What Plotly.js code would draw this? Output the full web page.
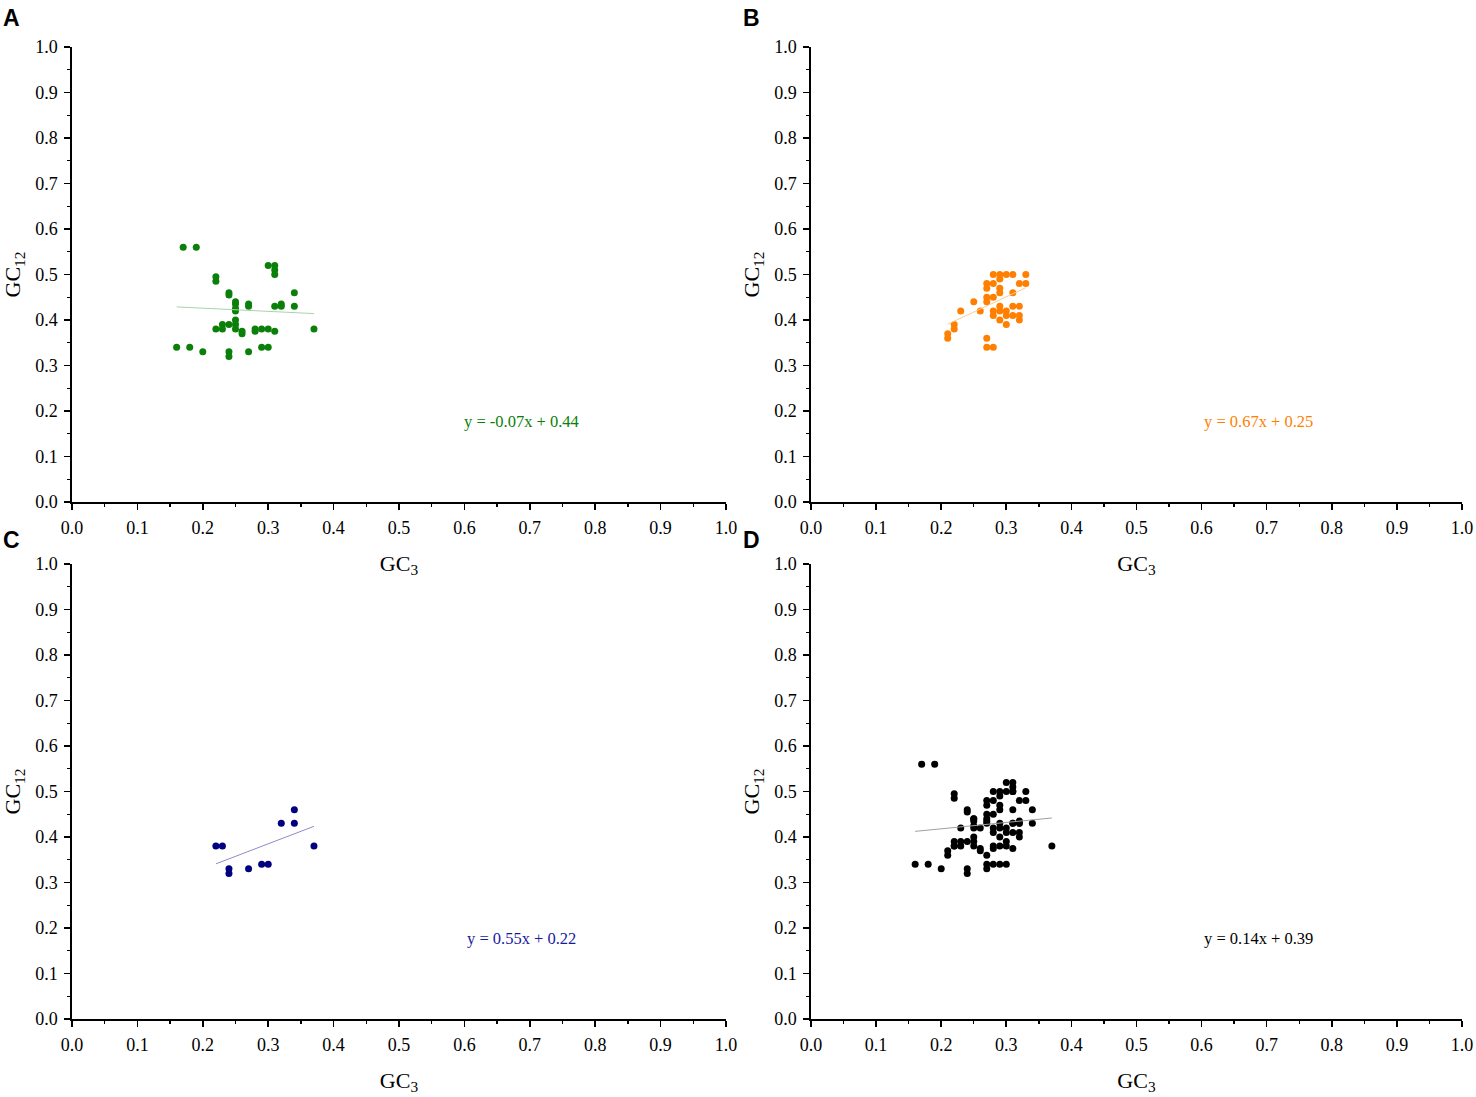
<!DOCTYPE html>
<html>
<head>
<meta charset="utf-8">
<script src="https://cdn.plot.ly/plotly-3.0.1.min.js"></script>
<style>
  html, body { margin: 0; padding: 0; background: #ffffff; }
  #chart { width: 1476px; height: 1097px; }
</style>
</head>
<body>
<div id="chart"></div>
<script>
// GC3 / GC12 values
const gcA_x = [0.17, 0.19, 0.30, 0.31, 0.31, 0.31, 0.22, 0.22, 0.24, 0.24, 0.34,
               0.25, 0.25, 0.25, 0.25, 0.27, 0.27, 0.31, 0.32, 0.32, 0.34,
               0.22, 0.23, 0.23, 0.24, 0.25, 0.25, 0.25, 0.26, 0.26,
               0.28, 0.28, 0.29, 0.30, 0.31, 0.37,
               0.16, 0.18, 0.20, 0.24, 0.24, 0.27, 0.29, 0.30];
const gcA_y = [0.56, 0.56, 0.52, 0.52, 0.51, 0.50, 0.495, 0.485, 0.46, 0.455, 0.46,
               0.44, 0.435, 0.425, 0.42, 0.435, 0.43, 0.43, 0.435, 0.43, 0.43,
               0.38, 0.39, 0.38, 0.39, 0.40, 0.39, 0.38, 0.375, 0.37,
               0.38, 0.375, 0.38, 0.38, 0.375, 0.38,
               0.34, 0.34, 0.33, 0.33, 0.32, 0.33, 0.34, 0.34];

const gcB_x = [0.28, 0.29, 0.30, 0.31, 0.33, 0.29, 0.27, 0.27, 0.28, 0.32, 0.33,
               0.29, 0.29, 0.31, 0.27, 0.27, 0.28, 0.25, 0.29, 0.29, 0.31, 0.32,
               0.23, 0.26, 0.28, 0.28, 0.30, 0.30, 0.31, 0.32, 0.32, 0.29, 0.30,
               0.22, 0.22, 0.21, 0.21, 0.27, 0.27, 0.28];
const gcB_y = [0.50, 0.50, 0.50, 0.50, 0.50, 0.49, 0.48, 0.47, 0.48, 0.48, 0.48,
               0.47, 0.46, 0.46, 0.45, 0.44, 0.45, 0.44, 0.43, 0.42, 0.43, 0.43,
               0.42, 0.42, 0.42, 0.41, 0.42, 0.41, 0.41, 0.41, 0.40, 0.40, 0.39,
               0.39, 0.38, 0.37, 0.36, 0.36, 0.34, 0.34];

const gcC_x = [0.22, 0.23, 0.24, 0.24, 0.27, 0.29, 0.30, 0.32, 0.34, 0.34, 0.37];
const gcC_y = [0.38, 0.38, 0.33, 0.32, 0.33, 0.34, 0.34, 0.43, 0.43, 0.46, 0.38];

// panel D pools A and B
const gcD_x = gcA_x.concat(gcB_x);
const gcD_y = gcA_y.concat(gcB_y);

const panelNames = ['A', 'B', 'C', 'D'];
const fitSlope = [-0.07, 0.67, 0.55, 0.14];
const fitIntercept = [0.44, 0.25, 0.22, 0.39];
const fitLabels = ['y = -0.07x + 0.44', 'y = 0.67x + 0.25', 'y = 0.55x + 0.22', 'y = 0.14x + 0.39'];

const SERIES = [[gcA_x, gcA_y], [gcB_x, gcB_y], [gcC_x, gcC_y], [gcD_x, gcD_y]];
const DOT = ['#0a800a', '#ff8000', '#000080', '#000000'];
const FIT = ['#a8d4a8', '#ffc898', '#8c8cc8', '#a0a0a0'];
const TXT = ['#0a800a', '#ff8000', '#1a1aa0', '#000000'];

const W = 1476, H = 1097;
const XDOM = [[72 / W, 726 / W], [811 / W, 1462 / W]];
const YDOM = [[1 - 502 / H, 1 - 47 / H], [1 - 1019 / H, 1 - 564 / H]];
const SERIF = 'Liberation Serif, Times New Roman, serif';

const traces = [];
const annotations = [];
const layout = {
    width: W,
    height: H,
    margin: {l: 0, r: 0, t: 0, b: 0},
    paper_bgcolor: '#ffffff',
    plot_bgcolor: '#ffffff',
    showlegend: false,
    font: {family: SERIF, color: '#000000', size: 18},
};

function axisBase(domain) {
    return {
        domain: domain,
        range: [0, 1],
        dtick: 0.1,
        tick0: 0,
        tickformat: '.1f',
        showgrid: false,
        zeroline: false,
        showline: true,
        linecolor: '#000000',
        linewidth: 1.6,
        ticks: 'outside',
        ticklen: 6,
        tickwidth: 1.6,
        tickcolor: '#000000',
        ticklabelstandoff: 3,
        tickfont: {family: SERIF, size: 18, color: '#000000'},
        minor: {ticks: 'outside', ticklen: 3.5, tickwidth: 1.4, tickcolor: '#000000', dtick: 0.05, showgrid: false},
        fixedrange: true,
    };
}

SERIES.forEach(([xs, ys], i) => {
    const col = i % 2, row = Math.floor(i / 2);
    const n = i + 1;
    const xa = n === 1 ? 'x' : 'x' + n;
    const ya = n === 1 ? 'y' : 'y' + n;

    traces.push({
        x: xs, y: ys, xaxis: xa, yaxis: ya,
        type: 'scatter', mode: 'markers',
        marker: {color: DOT[i], size: 7},
        hoverinfo: 'x+y',
    });

    // fitted line across the data range
    const lo = Math.min(...xs), hi = Math.max(...xs);
    traces.push({
        x: [lo, hi],
        y: [fitSlope[i] * lo + fitIntercept[i], fitSlope[i] * hi + fitIntercept[i]],
        xaxis: xa, yaxis: ya,
        type: 'scatter', mode: 'lines',
        line: {color: FIT[i], width: 1},
        hoverinfo: 'skip',
    });

    const xk = 'xaxis' + (n === 1 ? '' : n);
    const yk = 'yaxis' + (n === 1 ? '' : n);
    layout[xk] = Object.assign(axisBase(XDOM[col]), {
        anchor: ya,
        title: {text: 'GC<sub>3</sub>', font: {family: SERIF, size: 22}, standoff: 18},
    });
    layout[yk] = Object.assign(axisBase(YDOM[row]), {
        anchor: xa,
        title: {text: 'GC<sub>12</sub>', font: {family: SERIF, size: 22}, standoff: 8},
    });

    annotations.push({
        xref: xa, yref: ya, x: 0.688, y: 0.178,
        text: fitLabels[i], showarrow: false,
        font: {family: SERIF, size: 16.5, color: TXT[i]},
    });
    annotations.push({
        xref: 'paper', yref: 'paper',
        x: (col === 0 ? 1 : 741) / W, y: 1 - (row === 0 ? 18 : 540) / H,
        xanchor: 'left', yanchor: 'middle',
        text: '<b>' + panelNames[i] + '</b>', showarrow: false,
        font: {family: 'Liberation Sans, Arial, sans-serif', size: 23, color: '#000000'},
    });
});

layout.annotations = annotations;

Plotly.newPlot('chart', traces, layout, {displayModeBar: false, staticPlot: true});
</script>
</body>
</html>
